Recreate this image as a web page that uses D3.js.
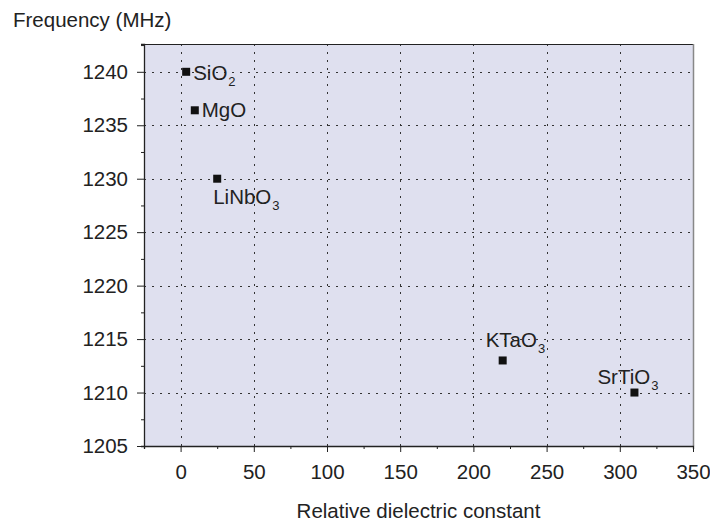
<!DOCTYPE html>
<html>
<head>
<meta charset="utf-8">
<script src="https://cdn.jsdelivr.net/npm/d3@7"></script>
<style>
	body { margin: 0; background: #fff; }
	svg { font-family: "Liberation Sans", Arial, sans-serif; }
</style>
</head>
<body>
<svg width="710" height="525"></svg>
<script>
// Data
var materials = ['SiO2', 'MgO', 'LiNbO3', 'KTaO3', 'SrTiO3'];
var permittivity = [3.8, 9.7, 25, 220, 310];
var frequency = [1240, 1236.4, 1230, 1213, 1210];
var x_ticks = [0, 50, 100, 150, 200, 250, 300, 350];
var y_ticks = [1205, 1210, 1215, 1220, 1225, 1230, 1235, 1240];

// label text (main part, subscript) and placement relative to marker
var label_parts = [['SiO', '2'], ['MgO', ''], ['LiNbO', '3'], ['KTaO', '3'], ['SrTiO', '3']];
var label_offsets = [[7, 8], [7, 7], [-4, 25], [-17, -13], [-37, -9]];

var plot_left = 144, plot_right = 693, plot_top = 44, plot_bottom = 446;
var font_size = 20.5;

var svg = d3.select('svg');

var x = d3.scaleLinear().domain([-25, 350]).range([plot_left, plot_right]);
var y = d3.scaleLinear().domain([1205, 1242.6]).range([plot_bottom, plot_top]);

// Plot background
svg.append('rect')
	.attr('x', plot_left)
	.attr('y', plot_top)
	.attr('width', plot_right - plot_left)
	.attr('height', plot_bottom - plot_top)
	.attr('fill', '#dfe0ef');

// Grid
var grid = svg.append('g').attr('stroke', '#333').attr('stroke-width', 1).attr('stroke-dasharray', '2,6');
grid.selectAll('.vgrid')
	.data(x_ticks.filter(d => d > -25 && d < 350))
	.enter().append('line')
	.attr('x1', d => Math.round(x(d)) + 0.5)
	.attr('x2', d => Math.round(x(d)) + 0.5)
	.attr('y1', plot_top)
	.attr('y2', plot_bottom);
grid.selectAll('.hgrid')
	.data(y_ticks.filter(d => d > 1205))
	.enter().append('line')
	.attr('y1', d => Math.round(y(d)) + 0.5)
	.attr('y2', d => Math.round(y(d)) + 0.5)
	.attr('x1', plot_left)
	.attr('x2', plot_right);

// Frame: top dark, right gray
svg.append('line')
	.attr('x1', plot_left).attr('x2', plot_right)
	.attr('y1', plot_top + 0.5).attr('y2', plot_top + 0.5)
	.attr('stroke', '#222').attr('stroke-width', 1.2);
svg.append('line')
	.attr('x1', plot_right + 0.5).attr('x2', plot_right + 0.5)
	.attr('y1', plot_top).attr('y2', plot_bottom)
	.attr('stroke', '#888').attr('stroke-width', 1.5);

// Axes
var x_axis = svg.append('g')
	.attr('transform', 'translate(0,' + plot_bottom + ')')
	.call(d3.axisBottom(x).tickValues(d3.range(-25, 351, 25)).tickSize(3).tickFormat(''));
x_axis.select('.domain').attr('stroke-width', 1.3);
x_axis.selectAll('.tick').filter(d => x_ticks.indexOf(d) >= 0).select('line').attr('y2', 6);
x_axis.selectAll('.tick').filter(d => x_ticks.indexOf(d) >= 0).select('text')
	.text(d => d)
	.attr('y', 18)
	.attr('font-size', font_size)
	.attr('font-family', '"Liberation Sans", Arial, sans-serif')
	.attr('fill', '#222');

var y_axis = svg.append('g')
	.attr('transform', 'translate(' + plot_left + ',0)')
	.call(d3.axisLeft(y).tickValues(d3.range(1205, 1242.6, 2.5)).tickSize(3).tickFormat(''));
y_axis.select('.domain').attr('stroke-width', 1.3);
y_axis.selectAll('.tick').filter(d => y_ticks.indexOf(d) >= 0).select('line').attr('x2', -7);
y_axis.selectAll('.tick').filter(d => y_ticks.indexOf(d) >= 0).select('text')
	.text(d => d)
	.attr('x', -16)
	.attr('font-size', font_size)
	.attr('font-family', '"Liberation Sans", Arial, sans-serif')
	.attr('fill', '#222');
svg.selectAll('.domain, .tick line').attr('stroke', '#222');

// Points
var points = materials.map((m, i) => ({ name: label_parts[i], px: permittivity[i], f: frequency[i], off: label_offsets[i] }));
svg.selectAll('.point')
	.data(points)
	.enter().append('rect')
	.attr('class', 'point')
	.attr('x', d => x(d.px) - 4)
	.attr('y', d => y(d.f) - 4)
	.attr('width', 8)
	.attr('height', 8)
	.attr('fill', '#111');

var labels = svg.selectAll('.label')
	.data(points)
	.enter().append('text')
	.attr('class', 'label')
	.attr('x', d => x(d.px) + d.off[0])
	.attr('y', d => y(d.f) + d.off[1])
	.attr('font-size', font_size)
	.attr('fill', '#222');
labels.append('tspan').text(d => d.name[0]);
labels.append('tspan')
	.attr('font-size', 13)
	.attr('dx', 1)
	.attr('dy', 6)
	.text(d => d.name[1]);

// Axis titles
svg.append('text')
	.attr('x', 13)
	.attr('y', 27)
	.attr('font-size', font_size)
	.attr('fill', '#222')
	.text('Frequency (MHz)');
svg.append('text')
	.attr('x', (plot_left + plot_right) / 2)
	.attr('y', 518)
	.attr('text-anchor', 'middle')
	.attr('font-size', font_size)
	.attr('fill', '#222')
	.text('Relative dielectric constant');
</script>
</body>
</html>
